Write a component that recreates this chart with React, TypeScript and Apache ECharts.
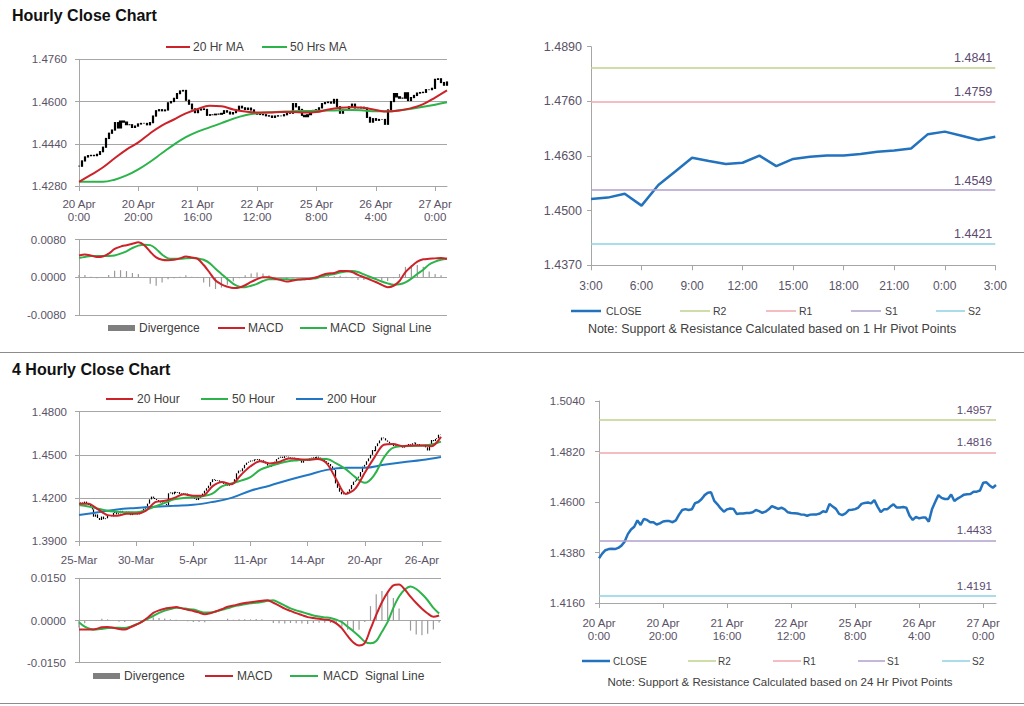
import { useEffect, useRef } from 'react';
import * as echarts from 'echarts';

// ---------------- data ----------------
const hourlyTickLabels = ['20 Apr\n0:00', '20 Apr\n20:00', '21 Apr\n16:00', '22 Apr\n12:00', '25 Apr\n8:00', '26 Apr\n4:00', '27 Apr\n0:00'];
const fourHourTickLabels = ['25-Mar', '30-Mar', '5-Apr', '11-Apr', '14-Apr', '20-Apr', '26-Apr'];
const intradayLabels = ['3:00', '4:00', '5:00', '6:00', '7:00', '8:00', '9:00', '10:00', '11:00', '12:00', '13:00', '14:00', '15:00', '16:00', '17:00', '18:00', '19:00', '20:00', '21:00', '22:00', '23:00', '0:00', '1:00', '2:00', '3:00'];

// hourly closes from 20 Apr 0:00
const hourlyClose = [
  1.4355, 1.4375, 1.4390, 1.4395, 1.4396, 1.4395, 1.4400, 1.4410, 1.4427, 1.4460,
  1.4480, 1.4492, 1.4520, 1.4500, 1.4526, 1.4522, 1.4512, 1.4512, 1.4502, 1.4507,
  1.4515, 1.4517, 1.4517, 1.4512, 1.4520, 1.4545, 1.4565, 1.4569, 1.4565, 1.4568,
  1.4595, 1.4600, 1.4612, 1.4630, 1.4640, 1.4642, 1.4605, 1.4590, 1.4572, 1.4558,
  1.4568, 1.4572, 1.4570, 1.4548, 1.4550, 1.4550, 1.4552, 1.4552, 1.4555, 1.4565,
  1.4560, 1.4553, 1.4558, 1.4568, 1.4582, 1.4576, 1.4570, 1.4575, 1.4568, 1.4555,
  1.4552, 1.4551, 1.4550, 1.4546, 1.4545, 1.4540, 1.4545, 1.4546, 1.4546, 1.4550,
  1.4560, 1.4556, 1.4592, 1.4580, 1.4570, 1.4548, 1.4543, 1.4550, 1.4565, 1.4566,
  1.4569, 1.4576, 1.4592, 1.4596, 1.4598, 1.4594, 1.4608, 1.4580, 1.4556, 1.4568,
  1.4568, 1.4580, 1.4590, 1.4576, 1.4576, 1.4578, 1.4575, 1.4540, 1.4522, 1.4535,
  1.4529, 1.4532, 1.4532, 1.4514, 1.4568, 1.4600, 1.4630, 1.4618, 1.4613, 1.4613,
  1.4633, 1.4604, 1.4615, 1.4623, 1.4632, 1.4634, 1.4635, 1.4645, 1.4645, 1.4650,
  1.4684, 1.4686, 1.4672, 1.4662, 1.4674,
];
// moving averages, one value every 4 hours
const hourlyMaStep = 4;
const hourlyMa20 = [
  1.4296, 1.4322, 1.4350, 1.4385, 1.4418, 1.4445, 1.4480, 1.4510, 1.4532, 1.4555,
  1.4572, 1.4584, 1.4582, 1.4570, 1.4562, 1.4558, 1.4558, 1.4560, 1.4560, 1.4558,
  1.4560, 1.4570, 1.4576, 1.4578, 1.4576, 1.4568, 1.4562, 1.4566, 1.4575, 1.4590,
  1.4615, 1.4642,
];
const hourlyMa50 = [
  1.4296, 1.4296, 1.4296, 1.4304, 1.4320, 1.4343, 1.4372, 1.4405, 1.4437, 1.4465,
  1.4486, 1.4502, 1.4518, 1.4535, 1.4548, 1.4555, 1.4559, 1.4561, 1.4563, 1.4564,
  1.4565, 1.4566, 1.4567, 1.4568, 1.4566, 1.4563, 1.4563, 1.4567, 1.4573, 1.4580,
  1.4588, 1.4597,
];
// MACD, one value every 2 hours
const hourlyMacdStep = 2;
const hourlyMacd = [
  0.0046, 0.0048, 0.0046, 0.0043, 0.0044, 0.0050, 0.0060, 0.0065, 0.0068, 0.0071,
  0.0074, 0.0068, 0.0054, 0.0042, 0.0037, 0.0036, 0.0037, 0.0040, 0.0044, 0.0042,
  0.0039, 0.0026, 0.0010, -0.0007, -0.0015, -0.0020, -0.0023, -0.0022, -0.0017, -0.0010,
  -0.0004, 0.0000, 0.0000, -0.0003, -0.0006, -0.0009, -0.0007, -0.0005, -0.0004, -0.0003,
  0.0000, 0.0005, 0.0008, 0.0009, 0.0013, 0.0013, 0.0011, 0.0005, 0.0000, -0.0005,
  -0.0010, -0.0016, -0.0021, -0.0018, -0.0008, 0.0011, 0.0023, 0.0033, 0.0038, 0.0039,
  0.0040, 0.0041, 0.0039,
];
const hourlySignal = [
  0.0041, 0.0043, 0.0045, 0.0045, 0.0045, 0.0045, 0.0046, 0.0050, 0.0055, 0.0062,
  0.0067, 0.0069, 0.0068, 0.0060, 0.0048, 0.0040, 0.0039, 0.0039, 0.0040, 0.0041,
  0.0040, 0.0037, 0.0030, 0.0018, 0.0007, -0.0004, -0.0014, -0.0020, -0.0021, -0.0018,
  -0.0014, -0.0008, -0.0004, -0.0004, -0.0004, -0.0004, -0.0005, -0.0005, -0.0004, -0.0003,
  -0.0002, 0.0002, 0.0005, 0.0007, 0.0010, 0.0012, 0.0013, 0.0011, 0.0006, 0.0001,
  -0.0004, -0.0009, -0.0013, -0.0016, -0.0015, -0.0011, -0.0003, 0.0007, 0.0016, 0.0027,
  0.0033, 0.0037, 0.0039,
];

// last 25 hours (3:00 to 3:00)
const intradayClose = [
  1.4528, 1.4531, 1.4540, 1.4512, 1.4561, 1.4593, 1.4626, 1.4618, 1.4611, 1.4614,
  1.4631, 1.4606, 1.4623, 1.4628, 1.4631, 1.4631, 1.4635, 1.4640, 1.4643, 1.4648,
  1.4682, 1.4688, 1.4678, 1.4668, 1.4676,
];
const pivotNames = ['R2', 'R1', 'S1', 'S2'];
const hourPivotLevels = [1.4841, 1.4759, 1.4549, 1.4421];
const dayPivotLevels = [1.4957, 1.4816, 1.4433, 1.4191];

// 4-hourly closes from 25 Mar
const fourHourClose = [
  1.4162, 1.4168, 1.4160, 1.4174, 1.4165, 1.4150, 1.4139, 1.4120, 1.4069, 1.4085, 1.4060,
  1.4046, 1.4070, 1.4052, 1.4058, 1.4075, 1.4081, 1.4072, 1.4095, 1.4104, 1.4085,
  1.4093, 1.4110, 1.4098, 1.4090, 1.4104, 1.4095, 1.4080, 1.4088, 1.4100, 1.4092,
  1.4085, 1.4097, 1.4110, 1.4125, 1.4139, 1.4160, 1.4190, 1.4209, 1.4200, 1.4192,
  1.4185, 1.4175, 1.4168, 1.4160, 1.4158, 1.4150, 1.4232, 1.4238, 1.4225, 1.4243,
  1.4235, 1.4240, 1.4228, 1.4232, 1.4225, 1.4230, 1.4215, 1.4220, 1.4210, 1.4205,
  1.4195, 1.4185, 1.4200, 1.4213, 1.4230, 1.4250, 1.4267, 1.4285, 1.4310, 1.4330,
  1.4325, 1.4318, 1.4322, 1.4313, 1.4305, 1.4298, 1.4290, 1.4285, 1.4295, 1.4301,
  1.4301, 1.4330, 1.4371, 1.4390, 1.4385, 1.4406, 1.4430, 1.4445, 1.4452, 1.4460,
  1.4455, 1.4468, 1.4464, 1.4470, 1.4458, 1.4462, 1.4452, 1.4440, 1.4425, 1.4417,
  1.4430, 1.4445, 1.4452, 1.4470, 1.4480, 1.4487, 1.4478, 1.4490, 1.4487, 1.4482,
  1.4475, 1.4480, 1.4475, 1.4468, 1.4470, 1.4464, 1.4445, 1.4464, 1.4470, 1.4460,
  1.4475, 1.4480, 1.4485, 1.4478, 1.4487, 1.4480, 1.4468, 1.4472, 1.4455, 1.4445,
  1.4436, 1.4420, 1.4400, 1.4394, 1.4301, 1.4270, 1.4243, 1.4225, 1.4232, 1.4228,
  1.4243, 1.4260, 1.4290, 1.4313, 1.4320, 1.4340, 1.4348, 1.4380, 1.4417, 1.4430,
  1.4455, 1.4475, 1.4500, 1.4533, 1.4525, 1.4560, 1.4580, 1.4600, 1.4620, 1.4615,
  1.4600, 1.4591, 1.4580, 1.4570, 1.4561, 1.4565, 1.4555, 1.4560, 1.4557, 1.4550,
  1.4562, 1.4568, 1.4575, 1.4570, 1.4580, 1.4585, 1.4570, 1.4575, 1.4568, 1.4560,
  1.4565, 1.4552, 1.4530, 1.4575, 1.4603, 1.4595, 1.4610, 1.4615, 1.4640, 1.4638,
];
const fourHourMaStep = 5;
const fourHourMa20 = [
  1.4160, 1.4160, 1.4120, 1.4080, 1.4075, 1.4090, 1.4090, 1.4110, 1.4170, 1.4180,
  1.4200, 1.4225, 1.4215, 1.4215, 1.4280, 1.4310, 1.4295, 1.4360, 1.4420, 1.4455,
  1.4440, 1.4450, 1.4475, 1.4470, 1.4465, 1.4470, 1.4440, 1.4330, 1.4228, 1.4265,
  1.4375, 1.4480, 1.4570, 1.4575, 1.4560, 1.4565, 1.4565, 1.4560, 1.4625,
];
const fourHourMa50 = [
  1.4150, 1.4140, 1.4125, 1.4110, 1.4104, 1.4100, 1.4100, 1.4115, 1.4140, 1.4165,
  1.4190, 1.4200, 1.4205, 1.4212, 1.4230, 1.4280, 1.4300, 1.4320, 1.4345, 1.4395,
  1.4420, 1.4440, 1.4455, 1.4462, 1.4468, 1.4472, 1.4470, 1.4440, 1.4400, 1.4345,
  1.4305, 1.4360, 1.4480, 1.4550, 1.4560, 1.4562, 1.4565, 1.4572, 1.4592,
];
const fourHourMa200Step = 10;
const fourHourMa200 = [
  1.4081, 1.4100, 1.4120, 1.4130, 1.4138, 1.4145, 1.4152, 1.4172, 1.4200, 1.4250,
  1.4285, 1.4325, 1.4360, 1.4395, 1.4410, 1.4410, 1.4430, 1.4448, 1.4464, 1.4485,
];
const fourHourMacdStep = 3;
const fourHourMacd = [
  -0.0032, -0.0032, -0.0032, -0.0030, -0.0024, -0.0023, -0.0026, -0.0030, -0.0032, -0.0024,
  -0.0015, -0.0005, 0.0010, 0.0027, 0.0036, 0.0042, 0.0045, 0.0048, 0.0043, 0.0038,
  0.0034, 0.0028, 0.0022, 0.0026, 0.0033, 0.0040, 0.0049, 0.0053, 0.0058, 0.0062,
  0.0065, 0.0068, 0.0070, 0.0072, 0.0063, 0.0053, 0.0042, 0.0034, 0.0026, 0.0019,
  0.0012, 0.0009, 0.0006, 0.0003, 0.0000, -0.0010, -0.0028, -0.0055, -0.0078, -0.0089,
  -0.0080, -0.0030, 0.0020, 0.0065, 0.0100, 0.0125, 0.0128, 0.0110, 0.0085, 0.0062,
  0.0042, 0.0025, 0.0013, 0.0018,
];
const fourHourSignal = [
  -0.0006, -0.0022, -0.0030, -0.0032, -0.0030, -0.0027, -0.0026, -0.0026, -0.0027, -0.0022,
  -0.0014, -0.0004, 0.0006, 0.0016, 0.0027, 0.0035, 0.0041, 0.0045, 0.0044, 0.0041,
  0.0039, 0.0033, 0.0028, 0.0028, 0.0032, 0.0038, 0.0043, 0.0050, 0.0054, 0.0058,
  0.0061, 0.0063, 0.0066, 0.0070, 0.0072, 0.0063, 0.0053, 0.0043, 0.0036, 0.0030,
  0.0024, 0.0018, 0.0014, 0.0011, 0.0009, 0.0003, -0.0006, -0.0022, -0.0038, -0.0056,
  -0.0075, -0.0081, -0.0073, -0.0040, -0.0005, 0.0045, 0.0085, 0.0110, 0.0121, 0.0112,
  0.0094, 0.0072, 0.0045, 0.0025,
];

// ---------------- styles ----------------
const FONT = "'Liberation Sans', Arial, sans-serif";
const AXIS = '#a6a6a6';
const LABEL = '#5a5366';
const TEXT = '#404040';
const RED = '#cc2229';
const GREEN = '#2cb34a';
const BLUE = '#2277c4';
const CLOSE_BLUE = '#2372bd';
const GRAYBAR = '#9a9a9a';
const PIVOT_COLORS = ['#bcd38e', '#efa7ad', '#b19fcc', '#8fd1e2'];
const PIVOT_TEXT = '#5c4a70';

// axes are in pips above a base price, so ticks start on a multiple of the interval
const PIP = 10000;
const TL_BASE = 1.428;
const TR_BASE = 1.437;
const BL_BASE = 1.39;
const BR_BASE = 1.416;
const pip = (v: number, base: number) => Math.round((v - base) * PIP * 10) / 10;

const candles = (close: number[], base: number) =>
  close.map((c, i) => {
    const o = i > 0 ? close[i - 1] : c;
    return [pip(o, base), pip(c, base), pip(Math.min(o, c), base), pip(Math.max(o, c), base)];
  });
const sparse = (arr: number[], step: number, base: number) => arr.map((v, k) => [k * step, pip(v, base)]);
const macdPts = (arr: number[], step: number) => arr.map((v, k) => [k * step, Math.round(v * PIP * 10) / 10]);
const divPts = (a: number[], b: number[], step: number) =>
  a.map((v, k) => [k * step, Math.round((v - b[k]) * PIP * 10) / 10]);

const priceFmt = (base: number) => (v: number) => (base + v / PIP).toFixed(4);
const macdFmt = (v: number) => (v / PIP).toFixed(4);

function yAxis(gridIndex: number, min: number, max: number, interval: number, fmt: any, split: boolean, fontSize: number, margin: number) {
  return {
    type: 'value', gridIndex, min, max, interval,
    axisLine: { show: true, lineStyle: { color: AXIS, width: 1 } },
    axisTick: { show: true, length: 4, lineStyle: { color: AXIS } },
    splitLine: { show: split, lineStyle: { color: AXIS, width: 1 } },
    axisLabel: { formatter: fmt, color: LABEL, fontSize, fontFamily: FONT, margin },
  };
}
function hiddenX(gridIndex: number, max: number) {
  return { type: 'value', gridIndex, min: 0, max, show: false, splitLine: { show: false } };
}
function catX(gridIndex: number, n: number, every: number, labels: string[], fontSize: number, margin: number, lineHeight: number) {
  return {
    type: 'category', gridIndex, boundaryGap: false,
    data: Array.from({ length: n }, (_, i) => String(i)),
    axisLine: { show: true, lineStyle: { color: AXIS } },
    axisTick: { show: true, interval: every - 1, length: 5, lineStyle: { color: AXIS } },
    axisLabel: {
      interval: every - 1, color: LABEL, fontSize, fontFamily: FONT, margin, lineHeight,
      formatter: (_v: string, i: number) => labels[Math.round(i / every)] ?? '',
    },
    splitLine: { show: false },
  };
}

function lineSeries(name: string, xAxisIndex: number, yAxisIndex: number, data: any[], color: string, width: number, smooth: number | boolean) {
  return {
    name, type: 'line', xAxisIndex, yAxisIndex, data, smooth, symbol: 'none', showSymbol: false,
    lineStyle: { color, width }, itemStyle: { color }, silent: true, z: 3,
  };
}
function pivotSeries(xAxisIndex: number, yAxisIndex: number, base: number, levels: number[], fontSize: number, dist: number) {
  return levels.map((lvl, k) => ({
    name: pivotNames[k], type: 'line', xAxisIndex, yAxisIndex, symbol: 'none', silent: true, z: 2,
    data: [],
    itemStyle: { color: PIVOT_COLORS[k] },
    markLine: {
      silent: true, symbol: 'none', animation: false,
      lineStyle: { color: PIVOT_COLORS[k], width: 1.5, type: 'solid' },
      label: {
        show: true, position: 'insideEndTop', distance: dist,
        formatter: lvl.toFixed(4), color: PIVOT_TEXT, fontSize, fontFamily: FONT,
      },
      emphasis: { disabled: true },
      data: [{ yAxis: pip(lvl, base) }],
    },
  }));
}
const candleSeries = (name: string, xAxisIndex: number, yAxisIndex: number, data: any[], w: number) => ({
  name, type: 'candlestick', xAxisIndex, yAxisIndex, data, barWidth: w, silent: true, z: 2,
  itemStyle: { color: '#000', color0: '#000', borderColor: '#000', borderColor0: '#000', borderWidth: 1.2 },
});
const divSeries = (xAxisIndex: number, yAxisIndex: number, data: any[], w: number) => ({
  name: 'Divergence', type: 'bar', xAxisIndex, yAxisIndex, data, barWidth: w, silent: true,
  itemStyle: { color: GRAYBAR }, z: 1,
});

type LegendItem = { kind: 'line' | 'bar'; color: string; x1: number; x2: number; tx: number; text: string; w?: number };
function legendGraphic(items: LegendItem[], y: number, fontSize: number) {
  const els: any[] = [];
  for (const it of items) {
    if (it.kind === 'bar') {
      els.push({ type: 'rect', shape: { x: it.x1, y: y - 3, width: it.x2 - it.x1, height: 6 }, style: { fill: '#7f7f7f' } });
    } else {
      els.push({ type: 'line', shape: { x1: it.x1, y1: y, x2: it.x2, y2: y }, style: { stroke: it.color, lineWidth: it.w ?? 2 } });
    }
    els.push({
      type: 'text', x: it.tx, y,
      style: { text: it.text, fill: TEXT, font: `${fontSize}px ${FONT}`, verticalAlign: 'middle', textVerticalAlign: 'middle' },
    });
  }
  return els;
}
function textEl(text: string, x: number, y: number, font: string, align = 'left') {
  return {
    type: 'text', x, y,
    style: { text, fill: align === 'center' ? TEXT : '#111', font, align, textAlign: align, verticalAlign: 'top', textVerticalAlign: 'top' },
  };
}

function buildOption() {
  const nH = hourlyClose.length;
  const n4 = fourHourClose.length;

  const graphic: any[] = [
    textEl('Hourly Close Chart', 12, 7, `bold 16px ${FONT}`),
    textEl('4 Hourly Close Chart', 12, 361, `bold 16px ${FONT}`),
    { type: 'line', shape: { x1: 0, y1: 352.5, x2: 1024, y2: 352.5 }, style: { stroke: '#8c8c8c', lineWidth: 1 } },
    { type: 'line', shape: { x1: 0, y1: 703.5, x2: 1024, y2: 703.5 }, style: { stroke: '#8c8c8c', lineWidth: 1 } },
    ...legendGraphic([
      { kind: 'line', color: RED, x1: 166, x2: 190, tx: 193, text: '20 Hr MA' },
      { kind: 'line', color: GREEN, x1: 262, x2: 287, tx: 290, text: '50 Hrs MA' },
    ], 47, 12),
    ...legendGraphic([
      { kind: 'bar', color: GRAYBAR, x1: 108, x2: 135, tx: 139, text: 'Divergence' },
      { kind: 'line', color: RED, x1: 218, x2: 245, tx: 248, text: 'MACD' },
      { kind: 'line', color: GREEN, x1: 300, x2: 327, tx: 330, text: 'MACD  Signal Line' },
    ], 328, 12),
    ...legendGraphic([
      { kind: 'line', color: CLOSE_BLUE, x1: 571, x2: 601, tx: 606, text: 'CLOSE', w: 2.5 },
      { kind: 'line', color: PIVOT_COLORS[0], x1: 680, x2: 710, tx: 713, text: 'R2', w: 1.5 },
      { kind: 'line', color: PIVOT_COLORS[1], x1: 766, x2: 796, tx: 799, text: 'R1', w: 1.5 },
      { kind: 'line', color: PIVOT_COLORS[2], x1: 851, x2: 881, tx: 885, text: 'S1', w: 1.5 },
      { kind: 'line', color: PIVOT_COLORS[3], x1: 936, x2: 965, tx: 968, text: 'S2', w: 1.5 },
    ], 311, 10.5),
    textEl('Note: Support & Resistance Calculated based on 1 Hr Pivot Points', 772, 322, `12.5px ${FONT}`, 'center'),
    ...legendGraphic([
      { kind: 'line', color: RED, x1: 106, x2: 133, tx: 137, text: '20 Hour' },
      { kind: 'line', color: GREEN, x1: 201, x2: 228, tx: 232, text: '50 Hour' },
      { kind: 'line', color: BLUE, x1: 296, x2: 323, tx: 327, text: '200 Hour' },
    ], 399, 12),
    ...legendGraphic([
      { kind: 'bar', color: GRAYBAR, x1: 93, x2: 120, tx: 124, text: 'Divergence' },
      { kind: 'line', color: RED, x1: 205, x2: 233, tx: 237, text: 'MACD' },
      { kind: 'line', color: GREEN, x1: 290, x2: 318, tx: 323, text: 'MACD  Signal Line' },
    ], 676, 12),
    ...legendGraphic([
      { kind: 'line', color: CLOSE_BLUE, x1: 582, x2: 610, tx: 613, text: 'CLOSE', w: 2.5 },
      { kind: 'line', color: PIVOT_COLORS[0], x1: 688, x2: 716, tx: 718, text: 'R2', w: 1.5 },
      { kind: 'line', color: PIVOT_COLORS[1], x1: 773, x2: 801, tx: 803, text: 'R1', w: 1.5 },
      { kind: 'line', color: PIVOT_COLORS[2], x1: 858, x2: 885, tx: 887, text: 'S1', w: 1.5 },
      { kind: 'line', color: PIVOT_COLORS[3], x1: 942, x2: 970, tx: 972, text: 'S2', w: 1.5 },
    ], 661, 10),
    textEl('Note: Support & Resistance Calculated based on 24 Hr Pivot Points', 780, 676, `11.5px ${FONT}`, 'center'),
  ];

  return {
    animation: false,
    backgroundColor: '#ffffff',
    textStyle: { fontFamily: FONT },
    grid: [
      { left: 79, top: 59.3, width: 368, height: 126.7 },
      { left: 79, top: 239.5, width: 368, height: 75.5 },
      { left: 591, top: 46.7, width: 404.3, height: 218.6 },
      { left: 79, top: 411.7, width: 362, height: 129.3 },
      { left: 79, top: 578.3, width: 362, height: 84.4 },
      { left: 599, top: 401, width: 397, height: 202 },
    ],
    xAxis: [
      catX(0, nH, 20, hourlyTickLabels, 11.5, 12, 12.5),
      hiddenX(0, nH - 1),
      hiddenX(1, nH - 1),
      {
        type: 'category', gridIndex: 2, boundaryGap: false, data: intradayLabels,
        axisLine: { show: true, lineStyle: { color: AXIS } },
        axisTick: { show: true, interval: 2, length: 5, lineStyle: { color: AXIS } },
        axisLabel: { interval: 2, color: LABEL, fontSize: 12, fontFamily: FONT, margin: 15 },
        splitLine: { show: false },
      },
      catX(3, n4, 30, fourHourTickLabels, 11.5, 12, 13),
      hiddenX(3, n4 - 1),
      hiddenX(4, n4 - 1),
      catX(5, nH, 20, hourlyTickLabels, 11.5, 13, 13.5),
    ],
    yAxis: [
      yAxis(0, 0, 480, 160, priceFmt(TL_BASE), true, 11.5, 12),
      yAxis(1, -80, 80, 80, macdFmt, true, 11.5, 13),
      yAxis(2, 0, 520, 130, priceFmt(TR_BASE), false, 12.5, 9),
      yAxis(3, 0, 900, 300, priceFmt(BL_BASE), true, 11.5, 12),
      yAxis(4, -150, 150, 150, macdFmt, true, 11.5, 13),
      yAxis(5, 0, 880, 220, priceFmt(BR_BASE), false, 11.5, 14),
    ],
    series: [
      // hourly price
      candleSeries('Hourly', 0, 0, candles(hourlyClose, TL_BASE), 1.6),
      lineSeries('50 Hrs MA', 1, 0, sparse(hourlyMa50, hourlyMaStep, TL_BASE), GREEN, 2, 0.4),
      lineSeries('20 Hr MA', 1, 0, sparse(hourlyMa20, hourlyMaStep, TL_BASE), RED, 2, 0.4),
      // hourly MACD
      divSeries(2, 1, divPts(hourlyMacd, hourlySignal, hourlyMacdStep), 1.2),
      lineSeries('MACD Signal Line', 2, 1, macdPts(hourlySignal, hourlyMacdStep), GREEN, 2, 0.3),
      lineSeries('MACD', 2, 1, macdPts(hourlyMacd, hourlyMacdStep), RED, 2, 0.3),
      // intraday close with pivots
      ...pivotSeries(3, 2, TR_BASE, hourPivotLevels, 12.5, 3),
      lineSeries('CLOSE', 3, 2, intradayClose.map((v) => pip(v, TR_BASE)), CLOSE_BLUE, 2.5, false),
      // 4-hourly price
      candleSeries('4 Hourly', 4, 3, candles(fourHourClose, BL_BASE), 1.2),
      lineSeries('200 Hour', 5, 3, sparse(fourHourMa200, fourHourMa200Step, BL_BASE), BLUE, 2, 0.4),
      lineSeries('50 Hour', 5, 3, sparse(fourHourMa50, fourHourMaStep, BL_BASE), GREEN, 2, 0.4),
      lineSeries('20 Hour', 5, 3, sparse(fourHourMa20, fourHourMaStep, BL_BASE), RED, 2, 0.3),
      // 4-hourly MACD
      divSeries(6, 4, divPts(fourHourMacd, fourHourSignal, fourHourMacdStep), 1.2),
      lineSeries('MACD Signal Line ', 6, 4, macdPts(fourHourSignal, fourHourMacdStep), GREEN, 2, 0.3),
      lineSeries('MACD ', 6, 4, macdPts(fourHourMacd, fourHourMacdStep), RED, 2, 0.3),
      // hourly close with 24h pivots
      ...pivotSeries(7, 5, BR_BASE, dayPivotLevels, 11.5, 4),
      lineSeries('CLOSE ', 7, 5, hourlyClose.map((v) => pip(v, BR_BASE)), CLOSE_BLUE, 2.5, false),
    ],
    graphic,
  };
}

export default function App() {
  const ref = useRef<HTMLDivElement>(null);
  useEffect(() => {
    if (!ref.current) return;
    const chart = echarts.init(ref.current, undefined, { renderer: 'svg' });
    chart.setOption(buildOption() as any);
    return () => chart.dispose();
  }, []);
  return (
    <div
      ref={ref}
      style={{ position: 'absolute', left: 0, top: 0, width: 1024, height: 706, background: '#fff' }}
    />
  );
}
